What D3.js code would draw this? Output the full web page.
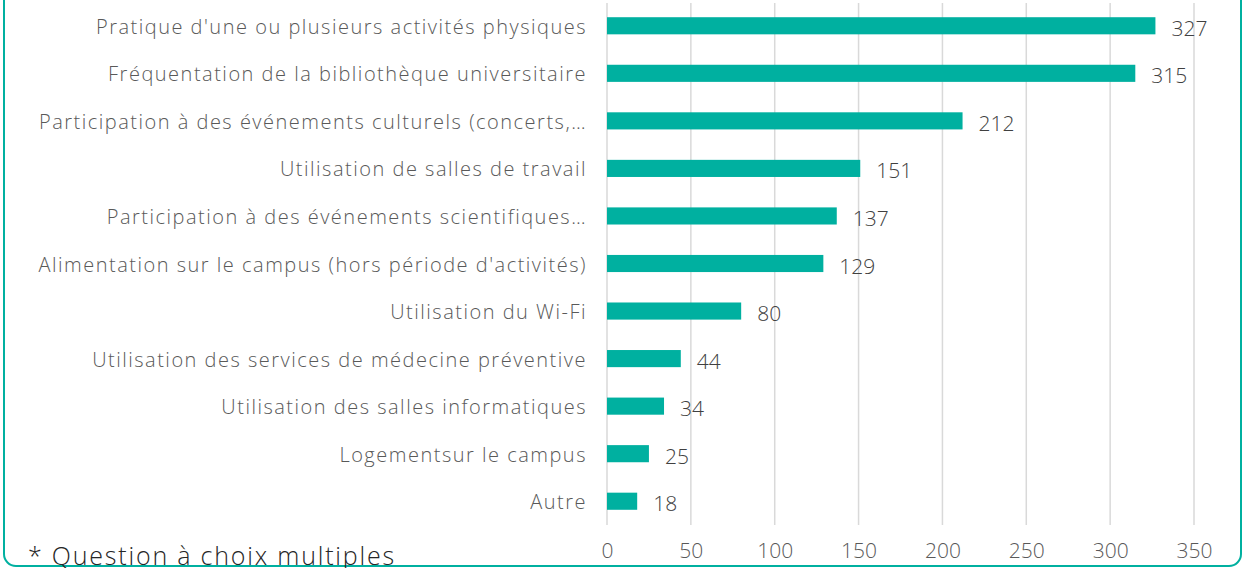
<!DOCTYPE html>
<html>
<head>
<meta charset="utf-8">
<script src="https://cdn.jsdelivr.net/npm/d3@7"></script>
<style>
  body { margin: 0; background: #fff; }
  svg { display: block; }
</style>
</head>
<body>
<svg></svg>
<script>
const width = 1245;
const height = 568;

// data
const categories = [
  "Pratique d'une ou plusieurs activités physiques",
  "Fréquentation de la bibliothèque universitaire",
  "Participation à des événements culturels (concerts,…",
  "Utilisation de salles de travail",
  "Participation à des événements scientifiques…",
  "Alimentation sur le campus (hors période d'activités)",
  "Utilisation du Wi-Fi",
  "Utilisation des services de médecine préventive",
  "Utilisation des salles informatiques",
  "Logementsur le campus",
  "Autre"
];
const values = [327, 315, 212, 151, 137, 129, 80, 44, 34, 25, 18];
const xTicks = [0, 50, 100, 150, 200, 250, 300, 350];
const footnote = "* Question à choix multiples";

const teal = "#00b0a0";
const textColor = "#595959";

const svg = d3.select("svg")
  .attr("width", width)
  .attr("height", height);

// frame
svg.append("rect")
  .attr("x", 4)
  .attr("y", -30)
  .attr("width", 1237)
  .attr("height", 596)
  .attr("rx", 12)
  .attr("fill", "none")
  .attr("stroke", teal)
  .attr("stroke-width", 2);

const x = d3.scaleLinear()
  .domain([0, 350])
  .range([607, 1194]);

const y = d3.scaleBand()
  .domain(categories)
  .range([2, 525])
  .paddingInner(0.64)
  .paddingOuter(0.32);

// gridlines
svg.append("g")
  .selectAll("line")
  .data(xTicks)
  .join("line")
  .attr("x1", d => x(d))
  .attr("x2", d => x(d))
  .attr("y1", 3)
  .attr("y2", 525)
  .attr("stroke", "#d9d9d9")
  .attr("stroke-width", 1.5);

// bars
svg.append("g")
  .selectAll("rect")
  .data(values)
  .join("rect")
  .attr("x", x(0))
  .attr("y", (d, i) => y(categories[i]))
  .attr("width", d => x(d) - x(0))
  .attr("height", y.bandwidth())
  .attr("fill", teal);

// value labels
svg.append("g")
  .selectAll("text")
  .data(values)
  .join("text")
  .attr("x", d => x(d) + 16)
  .attr("y", (d, i) => y(categories[i]) + y.bandwidth() / 2 + 10)
  .attr("font-family", "'Open Sans', sans-serif")
  .attr("font-weight", 300)
  .attr("font-size", 21)
  .attr("fill", "#404040")
  .text(d => d);

// category labels
svg.append("g")
  .selectAll("text")
  .data(categories)
  .join("text")
  .attr("x", 587)
  .attr("y", d => y(d) + y.bandwidth() / 2 + 8)
  .attr("text-anchor", "end")
  .attr("font-family", "'Open Sans', sans-serif")
  .attr("font-weight", 300)
  .attr("font-size", 20)
  .attr("letter-spacing", 1.5)
  .attr("fill", textColor)
  .text(d => d);

// x axis
const xAxis = svg.append("g")
  .attr("transform", "translate(0,525)")
  .call(d3.axisBottom(x).tickValues(xTicks).tickSize(0).tickPadding(18));
xAxis.select(".domain").remove();
xAxis.selectAll("text")
  .attr("font-family", "'Open Sans', sans-serif")
  .attr("font-weight", 300)
  .attr("font-size", 21)
  .attr("fill", textColor);

// footnote
svg.append("text")
  .attr("x", 28)
  .attr("y", 565)
  .attr("font-family", "'Open Sans', sans-serif")
  .attr("font-weight", 300)
  .attr("font-size", 25)
  .attr("letter-spacing", 1.8)
  .attr("fill", "#262626")
  .text(footnote);
</script>
</body>
</html>
